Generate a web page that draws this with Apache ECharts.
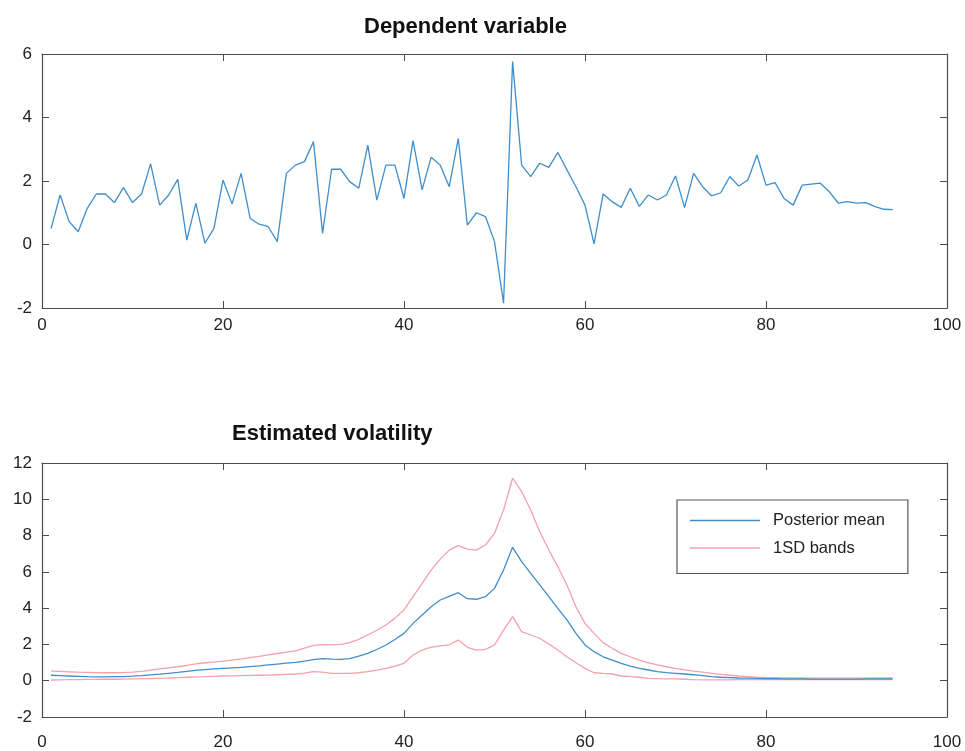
<!DOCTYPE html>
<html>
<head>
<meta charset="utf-8">
<script src="https://cdn.jsdelivr.net/npm/echarts@6/dist/echarts.min.js"></script>
<style>
html,body{margin:0;padding:0;background:#fff;}
#c{width:965px;height:751px;}
</style>
</head>
<body>
<div id="c"></div>
<script>
// ---------- data ----------
var depVar = [0.5,1.56,0.72,0.4,1.14,1.59,1.59,1.32,1.79,1.32,
  1.59,2.54,1.24,1.56,2.05,0.14,1.3,0.04,0.51,2.03,
  1.28,2.24,0.82,0.64,0.56,0.09,2.24,2.5,2.61,3.24,
  0.35,2.37,2.37,1.98,1.77,3.13,1.4,2.5,2.5,1.45,
  3.27,1.72,2.75,2.5,1.82,3.34,0.61,1.0,0.88,0.09,
  -1.85,5.76,2.5,2.14,2.56,2.43,2.9,2.35,1.82,1.24,
  0.02,1.59,1.35,1.17,1.77,1.2,1.56,1.4,1.56,2.16,
  1.16,2.24,1.82,1.53,1.63,2.14,1.84,2.03,2.82,1.87,
  1.95,1.45,1.24,1.87,1.9,1.93,1.66,1.3,1.35,1.3,
  1.32,1.2,1.11,1.1];
var postMean = [0.30,0.28,0.26,0.24,0.22,0.21,0.21,0.22,0.23,0.25,
  0.28,0.32,0.36,0.41,0.46,0.52,0.57,0.61,0.65,0.68,
  0.71,0.74,0.78,0.82,0.87,0.92,0.97,1.01,1.08,1.16,
  1.22,1.19,1.18,1.22,1.35,1.51,1.72,1.97,2.27,2.61,
  3.16,3.62,4.08,4.45,4.65,4.85,4.52,4.49,4.63,5.09,
  6.1,7.35,6.56,5.92,5.28,4.63,3.99,3.35,2.61,1.97,
  1.6,1.32,1.14,0.96,0.81,0.68,0.59,0.5,0.45,0.41,
  0.37,0.33,0.28,0.22,0.19,0.17,0.15,0.14,0.13,0.12,
  0.11,0.1,0.1,0.1,0.09,0.09,0.09,0.09,0.09,0.09,
  0.1,0.1,0.1,0.1];
var upperBand = [0.53,0.51,0.49,0.47,0.46,0.45,0.44,0.44,0.45,0.47,
  0.52,0.58,0.65,0.71,0.77,0.85,0.93,0.99,1.03,1.08,
  1.14,1.2,1.27,1.34,1.42,1.5,1.57,1.65,1.8,1.95,
  1.99,1.97,2.0,2.1,2.28,2.52,2.78,3.07,3.45,3.9,
  4.63,5.37,6.1,6.7,7.2,7.45,7.25,7.2,7.48,8.12,
  9.41,11.16,10.42,9.41,8.21,7.2,6.28,5.28,4.08,3.16,
  2.61,2.1,1.79,1.51,1.32,1.14,0.99,0.87,0.77,0.68,
  0.6,0.53,0.47,0.41,0.35,0.3,0.26,0.23,0.2,0.18,
  0.17,0.16,0.15,0.15,0.14,0.14,0.14,0.14,0.14,0.14,
  0.14,0.15,0.15,0.15];
var lowerBand = [0.04,0.05,0.06,0.06,0.07,0.07,0.08,0.08,0.09,0.1,
  0.11,0.12,0.14,0.15,0.17,0.19,0.21,0.22,0.24,0.26,
  0.27,0.28,0.29,0.3,0.31,0.33,0.35,0.37,0.42,0.5,
  0.47,0.41,0.4,0.4,0.44,0.5,0.58,0.68,0.8,0.96,
  1.42,1.69,1.85,1.92,1.98,2.24,1.84,1.69,1.73,1.97,
  2.79,3.53,2.7,2.52,2.34,2.02,1.69,1.32,0.99,0.68,
  0.44,0.4,0.37,0.26,0.22,0.19,0.13,0.11,0.1,0.1,
  0.08,0.06,0.05,0.05,0.05,0.05,0.06,0.06,0.06,0.06,
  0.06,0.06,0.06,0.06,0.06,0.06,0.06,0.06,0.06,0.06,
  0.06,0.06,0.06,0.06];
var titleTop = 'Dependent variable';
var titleBottom = 'Estimated volatility';
var legendNames = ['Posterior mean', '1SD bands'];

// ---------- build ----------
function pairs(arr){ return arr.map(function(v,i){ return [i+1, v]; }); }
var FONT = 'Liberation Sans, Arial, Helvetica, sans-serif';
var AX = '#4d4d4d';
var BLUE = '#3f8ecb';
var PINK = '#f3a1ab';

function xAxes(gi, margin){
  var base = {type:'value', gridIndex:gi, min:0, max:100, interval:20,
    axisLine:{show:true, onZero:false, lineStyle:{color:AX, width:1.2}},
    splitLine:{show:false}};
  return [
    Object.assign({}, base, {position:'bottom',
      axisTick:{show:true, inside:true, length:7, lineStyle:{color:AX}},
      axisLabel:{show:true, margin:margin, color:'#222', fontSize:17, fontFamily:FONT}}),
    Object.assign({}, base, {position:'top',
      axisTick:{show:true, inside:true, length:7, lineStyle:{color:AX}},
      axisLabel:{show:false}})
  ];
}
function yAxes(gi, min, max){
  var base = {type:'value', gridIndex:gi, min:min, max:max, interval:2,
    axisLine:{show:true, onZero:false, lineStyle:{color:AX, width:1.2}},
    splitLine:{show:false}};
  return [
    Object.assign({}, base, {position:'left',
      axisTick:{show:true, inside:true, length:7, lineStyle:{color:AX}},
      axisLabel:{show:true, margin:10, color:'#222', fontSize:17, fontFamily:FONT}}),
    Object.assign({}, base, {position:'right',
      axisTick:{show:true, inside:true, length:7, lineStyle:{color:AX}},
      axisLabel:{show:false}})
  ];
}

var xa = xAxes(0, 9).concat(xAxes(1, 17));
var ya = yAxes(0, -2, 6).concat(yAxes(1, -2, 12));

var option = {
  backgroundColor:'#fff',
  animation:false,
  title:[
    {text:titleTop, left:359, top:11, textStyle:{fontSize:22, fontWeight:'bold', color:'#111', fontFamily:FONT}},
    {text:titleBottom, left:227, top:418, textStyle:{fontSize:22, fontWeight:'bold', color:'#111', fontFamily:FONT}}
  ],
  grid:[
    {left:42, right:18, top:54, height:254},
    {left:42, right:18, top:463, height:254}
  ],
  xAxis:xa,
  yAxis:ya,
  legend:{
    data:legendNames,
    orient:'vertical',
    left:677, top:500,
    backgroundColor:'#fff',
    borderColor:'#555', borderWidth:1.2, borderRadius:0,
    padding:[12, 23, 17, 13],
    itemGap:10.5,
    icon:'rect',
    itemWidth:70, itemHeight:1.3,
    textStyle:{fontSize:16.5, color:'#222', fontFamily:FONT, padding:[0,0,0,8]}
  },
  series:[
    {type:'line', xAxisIndex:0, yAxisIndex:0, data:pairs(depVar), symbol:'none',
      lineStyle:{color:BLUE, width:1.3}, itemStyle:{color:BLUE}},
    {name:'1SD bands', type:'line', xAxisIndex:2, yAxisIndex:2, data:pairs(upperBand), symbol:'none',
      lineStyle:{color:PINK, width:1.3}, itemStyle:{color:PINK}},
    {name:'1SD bands', type:'line', xAxisIndex:2, yAxisIndex:2, data:pairs(lowerBand), symbol:'none',
      lineStyle:{color:PINK, width:1.3}, itemStyle:{color:PINK}},
    {name:'Posterior mean', type:'line', xAxisIndex:2, yAxisIndex:2, data:pairs(postMean), symbol:'none',
      lineStyle:{color:BLUE, width:1.3}, itemStyle:{color:BLUE}}
  ]
};
var chart = echarts.init(document.getElementById('c'), null, {renderer:'canvas'});
chart.setOption(option);
</script>
</body>
</html>
